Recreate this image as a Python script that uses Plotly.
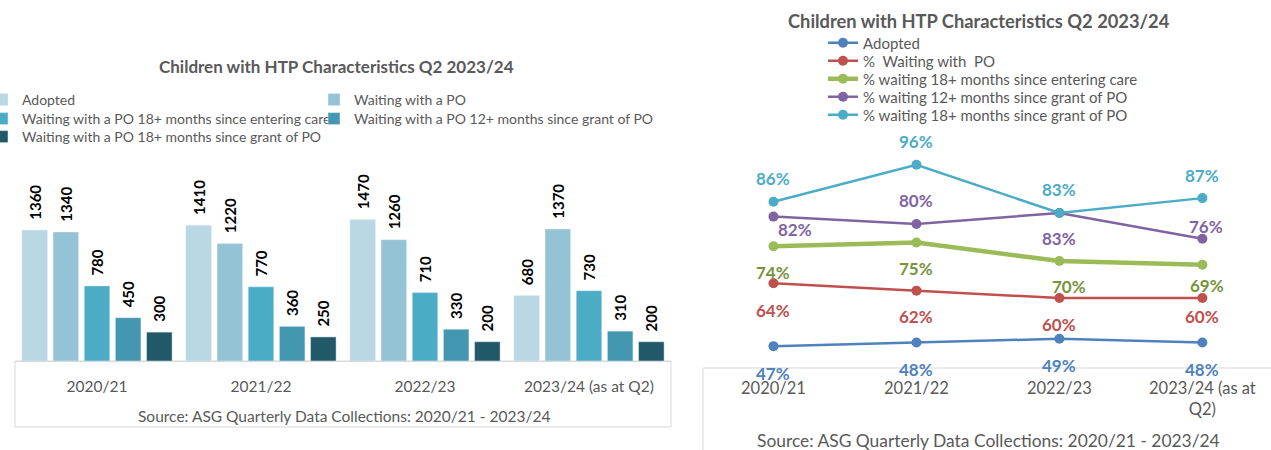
import plotly.graph_objects as go

# categories
years = ["2020/21", "2021/22", "2022/23", "2023/24 (as at Q2)"]
years_wrapped = ["2020/21", "2021/22", "2022/23", "2023/24 (as at<br>Q2)"]

# left chart - counts
adopted = [1360, 1410, 1470, 680]
waiting_po = [1340, 1220, 1260, 1370]
waiting_18_care = [780, 770, 710, 730]
waiting_12_grant = [450, 360, 330, 310]
waiting_18_grant = [300, 250, 200, 200]

# right chart - percentages
pct_adopted = [47, 48, 49, 48]
pct_waiting_po = [64, 62, 60, 60]
pct_18_care = [74, 75, 70, 69]
pct_12_grant = [82, 80, 83, 76]
pct_18_grant = [86, 96, 83, 87]

title = "Children with HTP Characteristics Q2 2023/24"
source = "Source: ASG Quarterly Data Collections: 2020/21 - 2023/24"
GREY = "#595959"
FONT = "Lato"
W, H = 1271, 450

fig = go.Figure()
legends = {}

def px_x(p):
    return p / W

def px_y(p):
    return 1 - p / H

# one legend per entry so each row can sit where it does in the original
bars = [
    ("Adopted", adopted, "#B9D8E4", (-18, 100)),
    ("Waiting with a PO", waiting_po, "#93C3D4", (314, 100)),
    ("Waiting with a PO 18+ months since entering care", waiting_18_care, "#4BACC6", (-18, 119)),
    ("Waiting with a PO 12+ months since grant of PO", waiting_12_grant, "#4397B0", (314, 119)),
    ("Waiting with a PO 18+ months since grant of PO", waiting_18_grant, "#215968", (-18, 137)),
]
n = 1
for name, vals, col, (lx, ly) in bars:
    key = "legend" if n == 1 else f"legend{n}"
    legends[key] = dict(x=px_x(lx), y=px_y(ly), xanchor="left", yanchor="middle",
                        font=dict(family=FONT, size=14, color=GREY), bgcolor="rgba(0,0,0,0)")
    fig.add_trace(go.Bar(
        x=years, y=vals, name=name, marker_color=col, legend=key,
        text=vals, texttemplate="\u00a0\u00a0%{text}", textposition="outside",
        textangle=-90, cliponaxis=False, constraintext="none",
        textfont=dict(family=FONT, size=15, color="black", weight="bold"),
        xaxis="x", yaxis="y",
    ))
    n += 1

# lines: name, values, line colour, label colour, width, label shifts (dx, dy), legend row y
lines = [
    ("Adopted", pct_adopted, "#4F81BD", "#4F81BD", 2.5, [(0, -27)] * 4, 43),
    ("%  Waiting with  PO", pct_waiting_po, "#C0504D", "#C0504D", 2.5,
     [(0, -27), (0, -26), (0, -26), (0, -18)], 61),
    ("% waiting 18+ months since entering care", pct_18_care, "#9BBB59", "#77933C", 4.5,
     [(0, -26), (0, -26), (10, -25), (5, -21)], 79),
    ("% waiting 12+ months since grant of PO", pct_12_grant, "#8064A2", "#8064A2", 2.5,
     [(22, -13), (0, 24), (0, -26), (4, 12)], 97),
    ("% waiting 18+ months since grant of PO", pct_18_grant, "#4BACC6", "#4BACC6", 2.5,
     [(0, 23)] * 4, 115),
]
annos = []
for name, vals, col, tcol, w, shifts, ly in lines:
    key = f"legend{n}"
    legends[key] = dict(x=px_x(823), y=px_y(ly), xanchor="left", yanchor="middle",
                        font=dict(family=FONT, size=15, color=GREY), bgcolor="rgba(0,0,0,0)")
    fig.add_trace(go.Scatter(
        x=years_wrapped, y=vals, name=name, mode="lines+markers",
        line=dict(color=col, width=w), marker=dict(color=col, size=10),
        legend=key, xaxis="x2", yaxis="y2", cliponaxis=False,
    ))
    n += 1
    for xv, v, (dx, dy) in zip(years_wrapped, vals, shifts):
        annos.append(dict(
            x=xv, y=v, xref="x2", yref="y2", text=f"{v}%", showarrow=False,
            xshift=dx, yshift=dy,
            font=dict(family=FONT, size=17, color=tcol, weight="bold"),
        ))

annos += [
    dict(x=px_x(336), y=px_y(67), text=f"<b>{title}</b>",
         font=dict(family=FONT, size=17, color=GREY)),
    dict(x=px_x(979), y=px_y(21), text=f"<b>{title}</b>",
         font=dict(family=FONT, size=18.3, color=GREY)),
    dict(x=px_x(344), y=px_y(416), text=source,
         font=dict(family=FONT, size=15.5, color=GREY)),
    dict(x=px_x(988), y=px_y(440), text=source,
         font=dict(family=FONT, size=17.4, color=GREY)),
]
for a in annos[-4:]:
    a.update(xref="paper", yref="paper", showarrow=False, xanchor="center", yanchor="middle")

box = dict(color="#D9D9D9", width=1)
shapes = [
    dict(type="rect", xref="paper", yref="paper", x0=px_x(15), x1=px_x(671),
         y0=px_y(427), y1=px_y(361), line=box, layer="below"),
    dict(type="rect", xref="paper", yref="paper", x0=px_x(703), x1=1.01,
         y0=-0.01, y1=px_y(368), line=box, layer="below"),
]

fig.update_layout(
    width=W, height=H,
    margin=dict(l=0, r=0, t=0, b=0, autoexpand=False),
    paper_bgcolor="white", plot_bgcolor="white",
    font=dict(family=FONT, color=GREY),
    barmode="group", bargap=0.05, bargroupgap=0.18,
    showlegend=True,
    xaxis=dict(domain=[px_x(15), px_x(671)], anchor="y", type="category",
               showline=True, linecolor="#D9D9D9", ticks="", ticklabelstandoff=11,
               tickfont=dict(family=FONT, size=15.5, color=GREY), showgrid=False),
    yaxis=dict(domain=[px_y(361), px_y(160)], anchor="x", range=[0, 2087],
               visible=False),
    xaxis2=dict(domain=[px_x(702), 1.0], anchor="y2", type="category", range=[-0.5, 3.48],
                showline=False, ticks="", ticklabelstandoff=8,
                tickfont=dict(family=FONT, size=16.5, color=GREY), showgrid=False),
    yaxis2=dict(domain=[px_y(368), px_y(150)], anchor="x2", range=[41.1, 100],
                visible=False),
    annotations=annos,
    shapes=shapes,
    **legends,
)

fig.write_html("out.html", config={"displayModeBar": False},
               post_script="document.body.style.margin='0';document.body.style.overflow='hidden';")
